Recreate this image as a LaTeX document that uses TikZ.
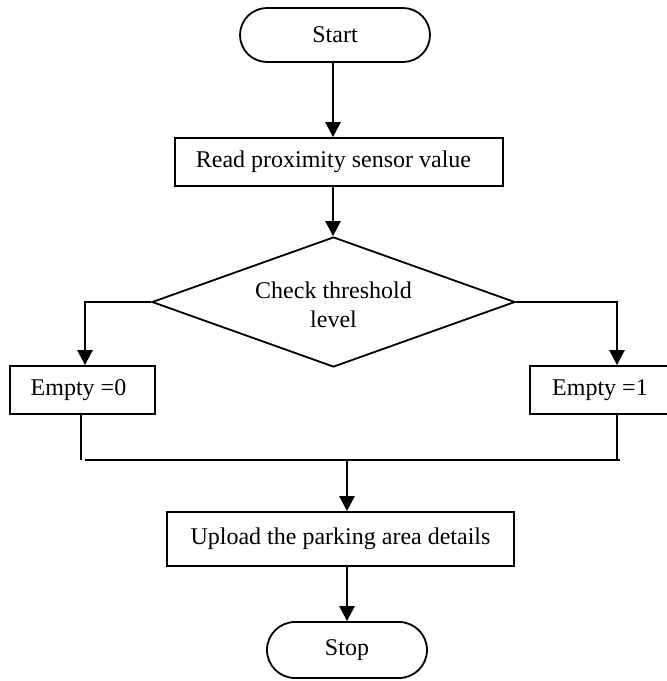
\documentclass[tikz,border=0pt]{standalone}
\usepackage{fontspec}
\setmainfont{Liberation Serif}
\usetikzlibrary{shapes.geometric,arrows.meta,calc}
\begin{document}
\begin{tikzpicture}[x=0.5pt,y=-0.5pt,
  box/.style={draw,line width=0.9pt,inner sep=0pt,font=\fontsize{12}{14.5}\selectfont},
  term/.style={box,rounded corners=13.5pt},
  arr/.style={line width=1.3pt,-{Triangle[width=7.5pt,length=7.5pt]}},
  ln/.style={line width=0.9pt}]
\useasboundingbox (0,0) rectangle (667,681);
% nodes
\node[term,minimum width=95pt,minimum height=27pt] (start) at (335,35) {Start};
\node[box,minimum width=164pt,minimum height=24pt] (read) at (339,162) {\hspace*{-5.5pt}Read proximity sensor value};
\node[draw,line width=0.9pt,diamond,inner sep=0pt,minimum width=181.5pt,minimum height=65pt] (dia) at (333.5,302) {};
\node[align=center,inner sep=0pt,font=\fontsize{12}{14.5}\selectfont] (diatext) at (333.5,305) {Check threshold\\level};
\node[box,minimum width=72.5pt,minimum height=24pt] (e0) at (82.5,390) {\hspace*{-4pt}Empty =0};
\node[box,minimum width=70pt,minimum height=24pt] (e1) at (600,390) {Empty =1};
\node[box,minimum width=173.5pt,minimum height=27pt] (up) at (340.5,539) {Upload the parking area details};
\node[term,minimum width=80pt,minimum height=28pt,rounded corners=14pt] (stop) at (347,650) {Stop};
% helper coordinates
\coordinate (ax) at (333,0);
\coordinate (cl) at (85,0);
\coordinate (bl) at (81,0);
\coordinate (cr) at (617,0);
\coordinate (cm) at (347,0);
\coordinate (hy) at (0,460);
\coordinate (hl) at (85,460);
\coordinate (hr) at (620,460);
% connectors
\draw[arr] (start.south -| ax) -- (read.north -| ax);
\draw[arr] (read.south -| ax) -- (ax |- dia.north);
\draw[arr] (dia.west) -| (cl |- e0.north);
\draw[arr] (dia.east) -| (cr |- e1.north);
\draw[ln] (bl |- e0.south) -- (bl |- hy);
\draw[ln] (cr |- e1.south) -- (cr |- hy);
\draw[ln] (hl) -- (hr);
\draw[arr] (cm |- hy) -- (cm |- up.north);
\draw[arr] (cm |- up.south) -- (stop.north);
\end{tikzpicture}
\end{document}
